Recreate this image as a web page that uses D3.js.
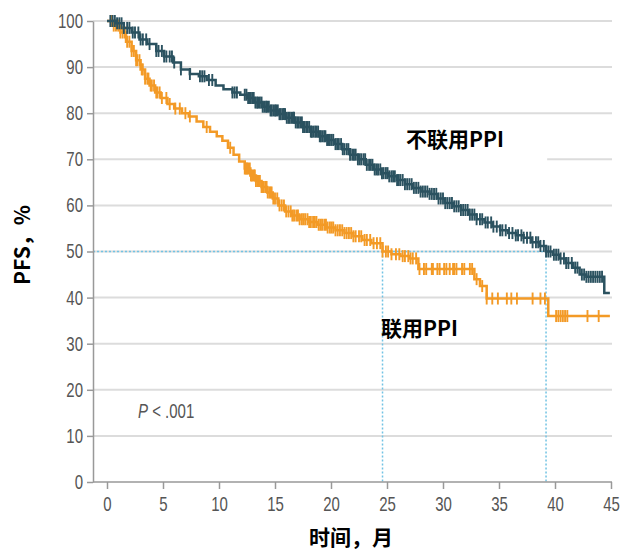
<!DOCTYPE html>
<html>
<head>
<meta charset="utf-8">
<script src="https://cdn.jsdelivr.net/npm/d3@7"></script>
<style>
  body { margin: 0; background: #fff; }
  svg { display: block; }
</style>
</head>
<body>
<svg id="canvas"></svg>
<script>
let width = 621,
height = 550

// KM steps [month, PFS %]
let noPpiSteps = [
  [0, 100], [0.8, 99.5], [1.5, 98.5], [2.2, 97.5], [2.9, 96], [3.6, 95], [4.4, 93.5],
  [5.1, 92.3], [5.9, 91], [6.6, 89.5], [7.4, 88.5], [8.2, 88], [8.9, 87.2], [9.7, 86],
  [10.4, 85.2], [11.2, 84.5], [11.9, 84], [12.5, 83.3], [13.2, 82.3], [13.9, 81.4],
  [14.6, 80.6], [15.3, 79.8], [16, 79], [16.8, 78], [17.5, 77], [18.2, 76], [18.9, 75],
  [19.6, 74.2], [20.3, 73.3], [21, 72.2], [21.7, 71], [22.4, 70], [23.1, 68.8],
  [23.8, 67.8], [24.5, 67], [25.2, 66.3], [25.9, 65.5], [26.6, 64.6], [27.3, 63.8],
  [28, 63], [28.8, 62.5], [29.5, 61.5], [30.2, 60.5], [30.9, 59.8], [31.6, 59], [32.3, 58],
  [33, 57], [33.7, 56.3], [34.4, 55.4], [35.1, 54.6], [35.8, 54], [36.5, 53.5], [37.2, 53],
  [37.9, 52], [38.6, 51.2], [39.2, 50], [39.8, 49.3], [40.4, 48.5], [41, 47.5], [41.6, 46.5],
  [42.2, 45], [42.8, 44.5], [44.4, 41], [44.9, 41]
]

let ppiSteps = [
  [0, 100], [0.6, 99], [1.2, 97.5], [1.7, 95.5], [2.2, 93.5], [2.6, 91.5], [3, 89.5],
  [3.4, 87.5], [3.8, 86], [4.3, 84.5], [4.8, 83.3], [5.4, 82], [6, 81], [6.7, 80],
  [7.3, 79.3], [8, 78.2], [8.6, 77], [9.2, 76], [9.8, 75], [10.3, 74], [10.8, 72.5],
  [11.3, 71], [11.8, 69.5], [12.3, 68], [12.8, 66.5], [13.3, 65.3], [13.8, 64], [14.3, 62.8],
  [14.8, 61.5], [15.3, 60], [15.9, 58.7], [16.5, 57.8], [17.2, 57], [18, 56.4], [18.8, 55.8],
  [19.6, 55.2], [20.4, 54.6], [21.2, 54], [22, 53.3], [22.8, 52.5], [23.6, 51.8], [24.6, 50],
  [25.4, 49.4], [26.2, 49], [27, 48.5], [27.8, 46.2], [32.8, 44], [33.3, 42.5], [33.9, 39.8],
  [39.4, 36], [44.9, 36]
]

// censored times, months
let noPpiCensor = [0.3, 0.5, 0.7, 0.9, 1.1, 1.3, 1.5, 1.8, 2.0, 2.3, 2.5, 2.8, 3.0, 3.2, 3.5,
  3.8, 4.4, 4.6, 4.9, 5.1, 5.3, 5.6, 5.8, 6.0, 6.6, 7.4, 8.3, 8.5, 8.7, 9.1, 9.4, 11.2, 11.4,
  11.6, 12.3, 12.45, 12.6, 12.7, 12.85, 13.0, 13.1, 13.25, 13.4, 13.5, 13.65, 13.8, 13.9,
  14.05, 14.2, 14.3, 14.45, 14.6, 14.7, 14.85, 15.0, 15.1, 15.25, 15.4, 15.5, 15.65, 15.8,
  15.9, 16.05, 16.2, 16.3, 16.45, 16.6, 16.7, 16.85, 17.0, 17.1, 17.25, 17.4, 17.5, 17.65,
  17.8, 17.9, 18.05, 18.2, 18.3, 18.45, 18.6, 18.7, 18.85, 19.0, 19.1, 19.25, 19.4, 19.5,
  19.65, 19.8, 19.9, 20.05, 20.2, 20.4, 20.55, 20.7, 20.9, 21.05, 21.2, 21.4, 21.55, 21.7,
  21.9, 22.05, 22.2, 22.4, 22.55, 22.7, 22.9, 23.05, 23.2, 23.4, 23.55, 23.7, 23.9, 24.05,
  24.2, 24.4, 24.55, 24.7, 24.9, 25.05, 25.2, 25.4, 25.55, 25.7, 25.9, 26.05, 26.2, 26.4,
  26.6, 26.8, 27.0, 27.2, 27.4, 27.6, 27.8, 28.0, 28.2, 28.4, 28.6, 28.8, 29.0, 29.2, 29.4,
  29.6, 29.8, 30.0, 30.2, 30.4, 30.6, 30.8, 31.0, 31.2, 31.4, 31.6, 31.8, 32.0, 32.2, 32.4,
  32.6, 32.8, 33.0, 33.3, 33.5, 33.8, 34.0, 34.3, 34.5, 34.8, 35.1, 35.3, 35.6, 35.9, 36.2,
  36.5, 36.7, 37.0, 37.2, 37.5, 37.8, 38.0, 38.3, 38.5, 38.7, 39.0, 39.2, 39.4, 39.6, 39.9,
  40.1, 40.3, 40.5, 40.8, 41.0, 41.2, 41.5, 41.8, 42.0, 42.4, 42.6, 42.8, 43.0, 43.2, 43.4,
  43.6, 43.8, 44.0, 44.2]

let ppiCensor = [0.4, 0.6, 0.8, 1.0, 1.2, 1.4, 1.6, 1.8, 2.0, 2.2, 2.4, 2.6, 2.7, 2.9, 3.1,
  3.2, 3.4, 3.6, 3.7, 3.9, 4.0, 4.2, 4.4, 4.5, 4.7, 4.9, 5.3, 5.6, 6.1, 6.5, 7.0, 7.4, 8.9,
  11.0, 12.3, 12.4, 12.5, 12.6, 12.75, 12.85, 12.95, 13.1, 13.2, 13.3, 13.45, 13.55, 13.65,
  13.8, 13.9, 14.0, 14.15, 14.25, 14.35, 14.5, 14.6, 14.7, 14.85, 15.0, 15.2, 15.4, 15.6,
  15.8, 16.0, 16.2, 16.4, 16.55, 16.7, 16.9, 17.05, 17.2, 17.4, 17.55, 17.7, 17.9, 18.05,
  18.2, 18.4, 18.55, 18.7, 18.9, 19.05, 19.2, 19.4, 19.55, 19.7, 19.9, 20.05, 20.2, 20.4,
  20.6, 20.8, 21.0, 21.2, 21.4, 21.6, 21.8, 22.0, 22.2, 22.5, 22.7, 23.0, 23.2, 23.5, 23.8,
  24.1, 24.4, 24.6, 24.9, 25.1, 25.4, 25.8, 26.1, 26.4, 26.6, 26.9, 27.1, 27.3, 27.6, 27.9,
  28.3, 28.5, 29.0, 29.1, 29.5, 29.7, 30.1, 30.3, 30.6, 30.9, 31.0, 31.2, 31.7, 31.9, 32.4,
  32.6, 33.0, 33.5, 33.9, 34.4, 34.9, 35.7, 36.1, 36.6, 38.0, 38.7, 39.1, 40.1, 40.3, 40.5,
  40.7, 40.9, 41.1, 42.9, 43.9]

let medians = [24.6, 39.2]
let xTicks = [0, 5, 10, 15, 20, 25, 30, 35, 40, 45]
let yTicks = [0, 10, 20, 30, 40, 50, 60, 70, 80, 90, 100]

let dark = '#2b5260'
let orange = '#f39a26'
let sans = '"Liberation Sans", Arial, sans-serif'
let cjk = '"Noto Sans CJK SC", sans-serif'
let squeeze = 0.75

let canvas = d3.select('#canvas')
.attr('width', width)
.attr('height', height)

let x = d3.scaleLinear().domain([0, 45]).range([107, 611])
let y = d3.scaleLinear().domain([0, 100]).range([482, 21])
let axisX = 93

// gridlines
canvas.append('g')
.selectAll('line')
.data(yTicks.filter((d) => d > 0))
.join('line')
.attr('x1', axisX)
.attr('x2', 612)
.attr('y1', (d) => y(d))
.attr('y2', (d) => y(d))
.attr('stroke', '#dcdcdc')
.attr('stroke-width', 2)

// white box behind the label
canvas.append('rect')
.attr('x', x(23))
.attr('y', y(78.3))
.attr('width', x(39.3) - x(23))
.attr('height', y(68.5) - y(78.3))
.attr('fill', '#fff')

// median reference lines
let ref = canvas.append('g')
.attr('stroke', '#72c3e4')
.attr('stroke-width', 1.5)
.attr('stroke-dasharray', '2,2')

ref.append('line')
.attr('x1', axisX)
.attr('x2', x(medians[1]))
.attr('y1', y(50))
.attr('y2', y(50))

ref.selectAll('.v')
.data(medians)
.join('line')
.attr('class', 'v')
.attr('x1', (d) => x(d))
.attr('x2', (d) => x(d))
.attr('y1', y(50))
.attr('y2', y(0))

// axes
let yAxis = canvas.append('g')
.attr('transform', `translate(${axisX},0)`)
.call(d3.axisLeft(y).tickValues(yTicks).tickSize(6).tickSizeOuter(0).tickPadding(4))

let xAxis = canvas.append('g')
.attr('transform', `translate(0,${y(0)})`)
.call(d3.axisBottom(x).tickValues(xTicks).tickSize(7).tickSizeOuter(0).tickPadding(8))
xAxis.select('.domain').remove()

canvas.append('line')
.attr('x1', axisX)
.attr('x2', 612)
.attr('y1', y(0))
.attr('y2', y(0))
.attr('stroke', '#999')
.attr('stroke-width', 1.5)

canvas.selectAll('.tick line').attr('stroke', '#999').attr('stroke-width', 1.5)
yAxis.select('.domain').attr('stroke', '#999').attr('stroke-width', 1.5)
canvas.selectAll('.tick text')
.attr('font-family', sans)
.attr('font-size', 20)
.attr('fill', '#555')
.attr('transform', `scale(${squeeze},1)`)
yAxis.selectAll('.tick text').attr('x', -10 / squeeze)

// curves
let line = d3.line()
.x((d) => x(d[0]))
.y((d) => y(d[1]))
.curve(d3.curveStepAfter)

let stepAt = (steps, t) => {
    let i = d3.bisector((d) => d[0]).right(steps, t) - 1
    return steps[Math.max(0, i)][1]
}

let drawCurve = (steps, censor, color) => {
    canvas.append('path')
    .datum(steps)
    .attr('d', line)
    .attr('fill', 'none')
    .attr('stroke', color)
    .attr('stroke-width', 2.5)

    canvas.append('g')
    .selectAll('line')
    .data(censor)
    .join('line')
    .attr('x1', (d) => x(d))
    .attr('x2', (d) => x(d))
    .attr('y1', (d) => y(stepAt(steps, d)) - 6)
    .attr('y2', (d) => y(stepAt(steps, d)) + 6)
    .attr('stroke', color)
    .attr('stroke-width', 1.9)
}

drawCurve(ppiSteps, ppiCensor, orange)
drawCurve(noPpiSteps, noPpiCensor, dark)

// labels
canvas.append('text')
.attr('x', 406)
.attr('y', 147)
.attr('font-family', cjk)
.attr('font-weight', 'bold')
.attr('font-size', 21)
.text('不联用PPI')

canvas.append('text')
.attr('x', 381)
.attr('y', 336)
.attr('font-family', cjk)
.attr('font-weight', 'bold')
.attr('font-size', 21)
.text('联用PPI')

let pText = canvas.append('text')
.attr('x', 138 / squeeze)
.attr('y', 418)
.attr('transform', `scale(${squeeze},1)`)
.attr('font-family', sans)
.attr('font-size', 20)
.attr('fill', '#555')
pText.append('tspan').attr('font-style', 'italic').text('P')
pText.append('tspan').text(' < .001')

canvas.append('text')
.attr('x', 351)
.attr('y', 545)
.attr('text-anchor', 'middle')
.attr('font-family', cjk)
.attr('font-weight', 'bold')
.attr('font-size', 21)
.text('时间，月')

canvas.append('text')
.attr('transform', 'translate(30,245) rotate(-90)')
.attr('text-anchor', 'middle')
.attr('font-family', cjk)
.attr('font-weight', 'bold')
.attr('font-size', 21)
.text('PFS，%')
</script>
</body>
</html>
